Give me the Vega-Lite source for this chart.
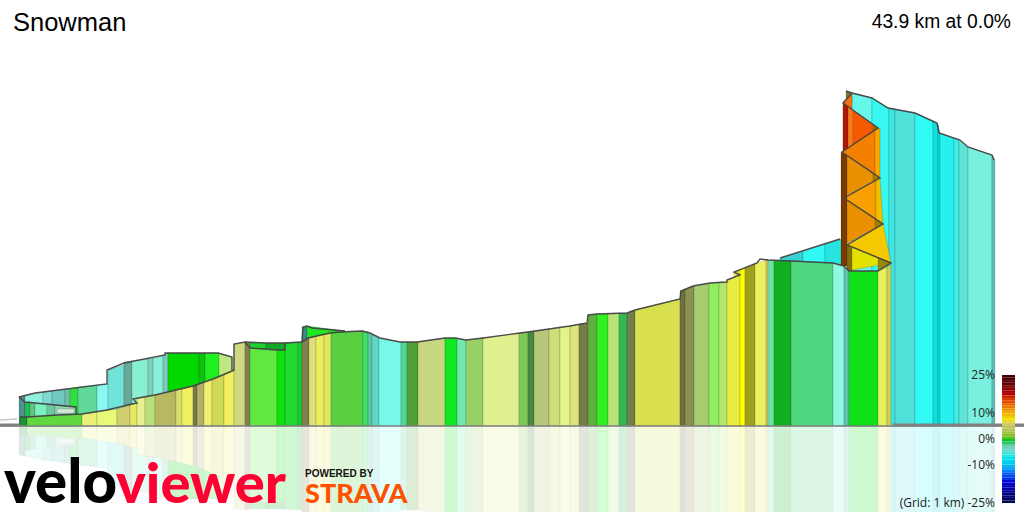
{"$schema":"https://vega.github.io/schema/vega-lite/v6.json","width":1014,"height":502,"padding":5,"autosize":{"type":"none"},"background":"white","config":{"view":{"stroke":null}},
"datasets":{"strips":[
{"s":1,"x":780,"top":168,"bot":0},{"s":1,"x":803,"top":175,"bot":0},{"s":2,"x":803,"top":175,"bot":0},{"s":2,"x":825,"top":182,"bot":0},{"s":3,"x":825,"top":182,"bot":0},{"s":3,"x":842,"top":187,"bot":0},
{"s":4,"x":852,"top":333,"bot":0},{"s":4,"x":872,"top":328,"bot":0},{"s":5,"x":872,"top":328,"bot":0},{"s":5,"x":889,"top":318,"bot":0},{"s":6,"x":889,"top":318,"bot":0},{"s":6,"x":895,"top":317,"bot":0},{"s":7,"x":895,"top":317,"bot":0},{"s":7,"x":915,"top":313,"bot":0},{"s":8,"x":915,"top":313,"bot":0},{"s":8,"x":933,"top":305,"bot":0},{"s":9,"x":933,"top":305,"bot":0},{"s":9,"x":938,"top":302,"bot":0},{"s":10,"x":938,"top":302,"bot":0},{"s":10,"x":940,"top":293,"bot":0},{"s":11,"x":940,"top":293,"bot":0},{"s":11,"x":954,"top":288,"bot":0},{"s":12,"x":954,"top":288,"bot":0},{"s":12,"x":959,"top":287,"bot":0},{"s":13,"x":959,"top":286,"bot":0},{"s":13,"x":968,"top":279,"bot":0},{"s":14,"x":968,"top":279,"bot":0},{"s":14,"x":992,"top":271,"bot":0},{"s":15,"x":992,"top":271,"bot":0},{"s":15,"x":995,"top":266,"bot":0},
{"s":16,"x":843,"top":323,"bot":274},{"s":16,"x":878,"top":298,"bot":298},{"s":17,"x":843,"top":323,"bot":274},{"s":17,"x":848,"top":319.4,"bot":277.4},{"s":18,"x":848,"top":319.4,"bot":277.4},{"s":18,"x":853,"top":316,"bot":281},{"s":19,"x":873,"top":301.6,"bot":294.6},{"s":19,"x":878,"top":298,"bot":298},
{"s":20,"x":842,"top":274,"bot":274},{"s":20,"x":875,"top":296,"bot":251.4},{"s":21,"x":875,"top":296,"bot":251.4},{"s":21,"x":880,"top":298,"bot":248},
{"s":22,"x":842,"top":274,"bot":228},{"s":22,"x":880,"top":248,"bot":248},{"s":23,"x":873,"top":252.8,"bot":244},{"s":23,"x":880,"top":248,"bot":248},
{"s":24,"x":844,"top":228,"bot":228},{"s":24,"x":876,"top":246,"bot":207},{"s":25,"x":876,"top":246,"bot":207},{"s":25,"x":880,"top":248,"bot":203.5},{"s":25,"x":883,"top":202,"bot":202},
{"s":26,"x":844,"top":228,"bot":181},{"s":26,"x":883,"top":202,"bot":202},{"s":27,"x":875,"top":207.3,"bot":197.3},{"s":27,"x":883,"top":202,"bot":202},
{"s":28,"x":847,"top":181,"bot":181},{"s":28,"x":883,"top":202,"bot":166},{"s":28,"x":891,"top":163,"bot":163},{"s":29,"x":847,"top":181,"bot":155},{"s":29,"x":891,"top":163,"bot":163},{"s":30,"x":878,"top":168,"bot":155},{"s":30,"x":891,"top":163,"bot":163},
{"s":31,"x":841,"top":274,"bot":160},{"s":31,"x":847,"top":270,"bot":160},{"s":32,"x":847,"top":181,"bot":155},{"s":32,"x":852,"top":178,"bot":155},{"s":33,"x":846,"top":335,"bot":325},{"s":33,"x":852,"top":333,"bot":323},{"s":34,"x":843,"top":323,"bot":323},{"s":34,"x":852,"top":333,"bot":317},
{"s":35,"x":19,"top":29,"bot":0},{"s":35,"x":25,"top":30,"bot":0},{"s":36,"x":25,"top":30,"bot":0},{"s":36,"x":43,"top":34,"bot":0},{"s":37,"x":43,"top":34,"bot":0},{"s":37,"x":52,"top":35,"bot":0},{"s":38,"x":52,"top":35,"bot":0},{"s":38,"x":65,"top":37,"bot":0},{"s":39,"x":65,"top":37,"bot":0},{"s":39,"x":70,"top":37.5,"bot":0},{"s":40,"x":70,"top":37.5,"bot":0},{"s":40,"x":78,"top":39,"bot":0},{"s":41,"x":78,"top":39,"bot":0},{"s":41,"x":97,"top":41,"bot":0},{"s":42,"x":97,"top":41,"bot":0},{"s":42,"x":108,"top":42,"bot":0},
{"s":43,"x":108,"top":56,"bot":0},{"s":43,"x":124,"top":61,"bot":0},{"s":44,"x":124,"top":64,"bot":0},{"s":44,"x":132,"top":65,"bot":0},{"s":45,"x":132,"top":65,"bot":0},{"s":45,"x":148,"top":67,"bot":0},{"s":46,"x":148,"top":67,"bot":0},{"s":46,"x":153,"top":68,"bot":0},{"s":47,"x":153,"top":68,"bot":0},{"s":47,"x":163,"top":70,"bot":0},{"s":48,"x":163,"top":71,"bot":0},{"s":48,"x":168,"top":73,"bot":0},{"s":49,"x":168,"top":73,"bot":0},{"s":49,"x":199,"top":73,"bot":0},{"s":50,"x":199,"top":73,"bot":0},{"s":50,"x":205,"top":73,"bot":0},{"s":51,"x":205,"top":73,"bot":0},{"s":51,"x":219,"top":73,"bot":0},{"s":52,"x":219,"top":73,"bot":0},{"s":52,"x":232,"top":69,"bot":0},
{"s":53,"x":250,"top":83,"bot":0},{"s":53,"x":266,"top":83,"bot":0},{"s":54,"x":266,"top":83,"bot":0},{"s":54,"x":285,"top":83,"bot":0},{"s":55,"x":302,"top":99,"bot":0},{"s":55,"x":307,"top":100,"bot":0},{"s":56,"x":307,"top":100,"bot":0},{"s":56,"x":345,"top":95,"bot":0},{"s":57,"x":734,"top":154,"bot":0},{"s":57,"x":740,"top":156,"bot":0},
{"s":58,"x":25,"top":24,"bot":0},{"s":58,"x":30,"top":24,"bot":0},{"s":59,"x":30,"top":24,"bot":0},{"s":59,"x":35,"top":23,"bot":0},{"s":60,"x":35,"top":23,"bot":0},{"s":60,"x":47,"top":22,"bot":0},{"s":61,"x":47,"top":22,"bot":0},{"s":61,"x":55,"top":21,"bot":0},{"s":62,"x":55,"top":21,"bot":0},{"s":62,"x":76,"top":19,"bot":0},{"s":132,"x":57,"top":17,"bot":13},{"s":132,"x":74,"top":17,"bot":13},
{"s":63,"x":20,"top":9,"bot":0},{"s":63,"x":27,"top":9,"bot":0},{"s":64,"x":27,"top":9,"bot":0},{"s":64,"x":82,"top":12,"bot":0},{"s":65,"x":82,"top":12,"bot":0},{"s":65,"x":97,"top":14,"bot":0},{"s":66,"x":97,"top":14,"bot":0},{"s":66,"x":117,"top":17,"bot":0},{"s":67,"x":117,"top":17,"bot":0},{"s":67,"x":130,"top":21,"bot":0},{"s":68,"x":130,"top":21,"bot":0},{"s":68,"x":137,"top":23,"bot":0},{"s":69,"x":137,"top":28,"bot":0},{"s":69,"x":145,"top":30,"bot":0},{"s":70,"x":145,"top":30,"bot":0},{"s":70,"x":155,"top":31,"bot":0},{"s":71,"x":155,"top":31,"bot":0},{"s":71,"x":176,"top":36,"bot":0},{"s":72,"x":176,"top":36,"bot":0},{"s":72,"x":182,"top":37,"bot":0},{"s":73,"x":182,"top":37,"bot":0},{"s":73,"x":193,"top":40,"bot":0},{"s":74,"x":193,"top":40,"bot":0},{"s":74,"x":197,"top":41,"bot":0},{"s":75,"x":197,"top":41,"bot":0},{"s":75,"x":204,"top":44,"bot":0},{"s":76,"x":204,"top":44,"bot":0},{"s":76,"x":212,"top":47,"bot":0},{"s":77,"x":212,"top":47,"bot":0},{"s":77,"x":224,"top":51,"bot":0},{"s":78,"x":224,"top":51,"bot":0},{"s":78,"x":234,"top":56,"bot":0},
{"s":79,"x":234,"top":82,"bot":0},{"s":79,"x":245,"top":84,"bot":0},{"s":80,"x":245,"top":84,"bot":0},{"s":80,"x":250,"top":83,"bot":0},{"s":81,"x":250,"top":78,"bot":0},{"s":81,"x":277,"top":76,"bot":0},{"s":82,"x":277,"top":76,"bot":0},{"s":82,"x":285,"top":76,"bot":0},{"s":83,"x":285,"top":83,"bot":0},{"s":83,"x":298,"top":84,"bot":0},{"s":84,"x":298,"top":84,"bot":0},{"s":84,"x":302,"top":84,"bot":0},{"s":85,"x":302,"top":84,"bot":0},{"s":85,"x":309,"top":88,"bot":0},{"s":86,"x":309,"top":88,"bot":0},{"s":86,"x":316,"top":90,"bot":0},{"s":87,"x":316,"top":90,"bot":0},{"s":87,"x":324,"top":92,"bot":0},{"s":88,"x":324,"top":92,"bot":0},{"s":88,"x":331,"top":93,"bot":0},{"s":89,"x":331,"top":93,"bot":0},{"s":89,"x":363,"top":95,"bot":0},{"s":90,"x":363,"top":95,"bot":0},{"s":90,"x":368,"top":94,"bot":0},{"s":91,"x":368,"top":94,"bot":0},{"s":91,"x":372,"top":91,"bot":0},{"s":92,"x":372,"top":91,"bot":0},{"s":92,"x":379,"top":88,"bot":0},{"s":93,"x":379,"top":88,"bot":0},{"s":93,"x":401,"top":84,"bot":0},{"s":94,"x":401,"top":84,"bot":0},{"s":94,"x":407,"top":84,"bot":0},{"s":95,"x":407,"top":84,"bot":0},{"s":95,"x":418,"top":84,"bot":0},{"s":96,"x":418,"top":84,"bot":0},{"s":96,"x":445,"top":88,"bot":0},{"s":97,"x":445,"top":88,"bot":0},{"s":97,"x":457,"top":88,"bot":0},{"s":98,"x":457,"top":88,"bot":0},{"s":98,"x":466,"top":86,"bot":0},{"s":99,"x":466,"top":86,"bot":0},{"s":99,"x":483,"top":88,"bot":0},{"s":100,"x":483,"top":88,"bot":0},{"s":100,"x":519,"top":93,"bot":0},{"s":101,"x":519,"top":93,"bot":0},{"s":101,"x":528,"top":94,"bot":0},{"s":102,"x":528,"top":94,"bot":0},{"s":102,"x":534,"top":95,"bot":0},{"s":103,"x":534,"top":95,"bot":0},{"s":103,"x":549,"top":97,"bot":0},{"s":104,"x":549,"top":97,"bot":0},{"s":104,"x":560,"top":99,"bot":0},{"s":105,"x":560,"top":99,"bot":0},{"s":105,"x":570,"top":100,"bot":0},{"s":106,"x":570,"top":100,"bot":0},{"s":106,"x":579,"top":102,"bot":0},{"s":107,"x":579,"top":102,"bot":0},{"s":107,"x":588,"top":103,"bot":0},{"s":108,"x":588,"top":111,"bot":0},{"s":108,"x":597,"top":112,"bot":0},{"s":109,"x":597,"top":112,"bot":0},{"s":109,"x":608,"top":112,"bot":0},{"s":110,"x":608,"top":112,"bot":0},{"s":110,"x":619,"top":113,"bot":0},{"s":111,"x":619,"top":113,"bot":0},{"s":111,"x":627,"top":113,"bot":0},{"s":112,"x":627,"top":113,"bot":0},{"s":112,"x":635,"top":116,"bot":0},{"s":113,"x":635,"top":116,"bot":0},{"s":113,"x":680,"top":127,"bot":0},{"s":114,"x":680,"top":135,"bot":0},{"s":114,"x":685,"top":137,"bot":0},{"s":115,"x":685,"top":137,"bot":0},{"s":115,"x":694,"top":140,"bot":0},{"s":116,"x":694,"top":140,"bot":0},{"s":116,"x":709,"top":143,"bot":0},{"s":117,"x":709,"top":143,"bot":0},{"s":117,"x":719,"top":144,"bot":0},{"s":118,"x":719,"top":144,"bot":0},{"s":118,"x":727,"top":144,"bot":0},{"s":119,"x":727,"top":146,"bot":0},{"s":119,"x":740,"top":151,"bot":0},{"s":120,"x":740,"top":156,"bot":0},{"s":120,"x":745,"top":158,"bot":0},{"s":121,"x":745,"top":158,"bot":0},{"s":121,"x":755,"top":162,"bot":0},{"s":122,"x":755,"top":162,"bot":0},{"s":122,"x":766,"top":166,"bot":0},{"s":123,"x":766,"top":166,"bot":0},{"s":123,"x":768,"top":166,"bot":0},{"s":124,"x":768,"top":166,"bot":0},{"s":124,"x":774,"top":166,"bot":0},{"s":125,"x":774,"top":166,"bot":0},{"s":125,"x":791,"top":165,"bot":0},{"s":126,"x":791,"top":165,"bot":0},{"s":126,"x":833,"top":163,"bot":0},{"s":127,"x":833,"top":163,"bot":0},{"s":127,"x":844,"top":160,"bot":0},{"s":128,"x":844,"top":160,"bot":0},{"s":128,"x":849,"top":155,"bot":0},{"s":129,"x":849,"top":155,"bot":0},{"s":129,"x":878,"top":155,"bot":0},{"s":130,"x":878,"top":155,"bot":0},{"s":130,"x":887,"top":159,"bot":0},{"s":131,"x":887,"top":159,"bot":0},{"s":131,"x":891,"top":162,"bot":0}
],
"edges":[
{"e":"o1","x":846,"elev":335},{"e":"o1","x":852,"elev":333},{"e":"o1","x":872,"elev":328},{"e":"o1","x":888,"elev":318},{"e":"o1","x":915,"elev":313},{"e":"o1","x":937,"elev":303},{"e":"o1","x":939,"elev":293},{"e":"o1","x":960,"elev":286},{"e":"o1","x":968,"elev":279},{"e":"o1","x":992,"elev":271},{"e":"o1","x":994,"elev":266},
{"e":"o2","x":852,"elev":333},{"e":"o2","x":843,"elev":323},{"e":"o2","x":878,"elev":298},{"e":"o2","x":842,"elev":274},{"e":"o2","x":880,"elev":248},{"e":"o2","x":844,"elev":228},{"e":"o2","x":883,"elev":202},{"e":"o2","x":847,"elev":181},{"e":"o2","x":891,"elev":163},{"e":"o2","x":878,"elev":155},{"e":"o2","x":849,"elev":155},{"e":"o2","x":844,"elev":160},{"e":"o2","x":833,"elev":163},{"e":"o2","x":791,"elev":165},{"e":"o2","x":768,"elev":166},{"e":"o2","x":760,"elev":167},{"e":"o2","x":757,"elev":163},{"e":"o2","x":734,"elev":154},{"e":"o2","x":740,"elev":151},{"e":"o2","x":727,"elev":146},{"e":"o2","x":727,"elev":144},{"e":"o2","x":710,"elev":143},{"e":"o2","x":693,"elev":140},{"e":"o2","x":681,"elev":135},{"e":"o2","x":680,"elev":127},{"e":"o2","x":635,"elev":116},{"e":"o2","x":627,"elev":113},{"e":"o2","x":597,"elev":112},{"e":"o2","x":588,"elev":111},{"e":"o2","x":587,"elev":103},{"e":"o2","x":570,"elev":100},{"e":"o2","x":528,"elev":94},{"e":"o2","x":520,"elev":93},{"e":"o2","x":483,"elev":88},{"e":"o2","x":466,"elev":86},{"e":"o2","x":455,"elev":88},{"e":"o2","x":445,"elev":88},{"e":"o2","x":417,"elev":84},{"e":"o2","x":400,"elev":84},{"e":"o2","x":380,"elev":88},{"e":"o2","x":370,"elev":93},{"e":"o2","x":362,"elev":95},{"e":"o2","x":340,"elev":94},{"e":"o2","x":330,"elev":93},{"e":"o2","x":308,"elev":88},{"e":"o2","x":302,"elev":84},{"e":"o2","x":285,"elev":83},{"e":"o2","x":285,"elev":76},{"e":"o2","x":277,"elev":76},{"e":"o2","x":250,"elev":78},{"e":"o2","x":245,"elev":84},{"e":"o2","x":234,"elev":82},{"e":"o2","x":234,"elev":56},{"e":"o2","x":232,"elev":55},{"e":"o2","x":213,"elev":47},{"e":"o2","x":193,"elev":40},{"e":"o2","x":155,"elev":31},{"e":"o2","x":133,"elev":27},{"e":"o2","x":137,"elev":23},{"e":"o2","x":132,"elev":22},{"e":"o2","x":107,"elev":16},{"e":"o2","x":82,"elev":12},{"e":"o2","x":57,"elev":11},{"e":"o2","x":27,"elev":9},{"e":"o2","x":20,"elev":9},
{"e":"o3","x":780,"elev":168},{"e":"o3","x":840,"elev":187},
{"e":"o4","x":19,"elev":29},{"e":"o4","x":35,"elev":33},{"e":"o4","x":107,"elev":42},{"e":"o4","x":107,"elev":56},{"e":"o4","x":124,"elev":63},{"e":"o4","x":165,"elev":71},{"e":"o4","x":165,"elev":73},{"e":"o4","x":218,"elev":73},{"e":"o4","x":232,"elev":69},{"e":"o4","x":232,"elev":56},
{"e":"o5","x":245,"elev":84},{"e":"o5","x":267,"elev":83},{"e":"o5","x":285,"elev":83},
{"e":"o6","x":302,"elev":85},{"e":"o6","x":303,"elev":99},{"e":"o6","x":307,"elev":100},{"e":"o6","x":312,"elev":98},{"e":"o6","x":345,"elev":95},
{"e":"o7","x":19,"elev":29},{"e":"o7","x":25,"elev":24},{"e":"o7","x":76,"elev":19},{"e":"o7","x":76,"elev":12}
],
"bar":[{"g":25,"g2":24},{"g":24,"g2":23},{"g":23,"g2":22},{"g":22,"g2":21},{"g":21,"g2":20},{"g":20,"g2":19},{"g":19,"g2":18},{"g":18,"g2":17},{"g":17,"g2":16},{"g":16,"g2":15},{"g":15,"g2":14},{"g":14,"g2":13},{"g":13,"g2":12},{"g":12,"g2":11},{"g":11,"g2":10},{"g":10,"g2":9},{"g":9,"g2":8},{"g":8,"g2":7},{"g":7,"g2":6},{"g":6,"g2":5},{"g":5,"g2":4},{"g":4,"g2":3},{"g":3,"g2":2},{"g":2,"g2":1},{"g":1,"g2":0},{"g":0,"g2":-1},{"g":-1,"g2":-2},{"g":-2,"g2":-3},{"g":-3,"g2":-4},{"g":-4,"g2":-5},{"g":-5,"g2":-6},{"g":-6,"g2":-7},{"g":-7,"g2":-8},{"g":-8,"g2":-9},{"g":-9,"g2":-10},{"g":-10,"g2":-11},{"g":-11,"g2":-12},{"g":-12,"g2":-13},{"g":-13,"g2":-14},{"g":-14,"g2":-15},{"g":-15,"g2":-16},{"g":-16,"g2":-17},{"g":-17,"g2":-18},{"g":-18,"g2":-19},{"g":-19,"g2":-20},{"g":-20,"g2":-21},{"g":-21,"g2":-22},{"g":-22,"g2":-23},{"g":-23,"g2":-24},{"g":-24,"g2":-25}]
},
"resolve":{"scale":{"y":"independent","color":"independent"}},
"layer":[
{"data":{"name":"strips"},"mark":{"type":"area","stroke":"#000000","strokeOpacity":0.14,"strokeWidth":1},"encoding":{
"x":{"field":"x","type":"quantitative","scale":{"domain":[5,1019],"nice":false,"zero":false},"axis":null},
"y":{"field":"top","type":"quantitative","scale":{"domain":[-421,81],"reverse":true,"nice":false,"zero":false},"axis":null},
"y2":{"field":"bot"},
"color":{"field":"s","type":"nominal","legend":null,"scale":{"domain":[1,2,3,4,5,6,7,8,9,10,11,12,13,14,15,16,17,18,19,20,21,22,23,24,25,26,27,28,29,30,31,32,33,34,35,36,37,38,39,40,41,42,43,44,45,46,47,48,49,50,51,52,53,54,55,56,57,58,59,60,61,62,63,64,65,66,67,68,69,70,71,72,73,74,75,76,77,78,79,80,81,82,83,84,85,86,87,88,89,90,91,92,93,94,95,96,97,98,99,100,101,102,103,104,105,106,107,108,109,110,111,112,113,114,115,116,117,118,119,120,121,122,123,124,125,126,127,128,129,130,131,132],"range":["#38d0d0","#30f8f4","#28e4e0","#66f7ec","#37f7ef","#40e4e0","#50e2da","#30fbf5","#10dfe0","#10dfe0","#28f0ee","#40eee8","#60e4d8","#78f0e0","#60c0b8","#f55a00","#b01800","#f47a20","#a07000","#f58000","#f5a800","#e89000","#a08000","#f8a000","#f0c000","#e89000","#a08000","#f5c800","#e4e000","#9a8a00","#7a3a00","#807000","#807830","#f47010","#50908c","#90f0e0","#80d8d0","#70c8c0","#70c0a8","#30e040","#60d898","#88f8f0","#70e4d8","#68a898","#88f0d0","#80d0c0","#88f0d8","#7ac8b8","#00d800","#10c010","#20f020","#c0e880","#20d030","#10a828","#408888","#20e820","#e8ec40","#20c058","#60c880","#78f0c0","#70c8a0","#8cd8b0","#209030","#60d840","#e8f078","#e8f878","#d0d070","#e8e860","#e8f090","#b8e078","#b8b860","#d8e070","#f0f060","#787848","#b0b068","#f0f070","#d0d858","#f0f060","#d0d880","#808050","#60e840","#10e010","#20d830","#20c830","#808050","#e0e078","#e8f060","#e0e860","#58d040","#40e070","#60c8a0","#60d8c8","#78f8e8","#50d890","#50a038","#c8d880","#10e820","#70e8b0","#98d068","#e0f090","#80c858","#4a8a40","#b8c878","#d0dc78","#e4f488","#dce480","#747c48","#60b040","#30f020","#b8e478","#30b858","#747c48","#d8e050","#707040","#8c9050","#a8cc70","#90ee60","#b0e870","#e8ec40","#ffff00","#a0a020","#ecf060","#d0d060","#70e0a8","#10b020","#50d880","#90f8e0","#60c0b0","#10e018","#e8f060","#d0d050","#d8e8d8"]}}
}},
{"data":{"values":[{"x":0,"a":0,"b":-86},{"x":1024,"a":0,"b":-86}]},"mark":{"type":"area","color":"white","opacity":0.8},"encoding":{
"x":{"field":"x","type":"quantitative","scale":{"domain":[5,1019],"nice":false,"zero":false},"axis":null},
"y":{"field":"a","type":"quantitative","scale":{"domain":[-81,421],"nice":false,"zero":false},"axis":null},"y2":{"field":"b"}}},
{"data":{"name":"strips"},"mark":{"type":"area","stroke":"#000000","strokeOpacity":0.14,"strokeWidth":1},"encoding":{
"x":{"field":"x","type":"quantitative","scale":{"domain":[5,1019],"nice":false,"zero":false},"axis":null},
"y":{"field":"top","type":"quantitative","scale":{"domain":[-81,421],"nice":false,"zero":false},"axis":null},
"y2":{"field":"bot"},
"color":{"field":"s","type":"nominal","legend":null,"scale":{"domain":[1,2,3,4,5,6,7,8,9,10,11,12,13,14,15,16,17,18,19,20,21,22,23,24,25,26,27,28,29,30,31,32,33,34,35,36,37,38,39,40,41,42,43,44,45,46,47,48,49,50,51,52,53,54,55,56,57,58,59,60,61,62,63,64,65,66,67,68,69,70,71,72,73,74,75,76,77,78,79,80,81,82,83,84,85,86,87,88,89,90,91,92,93,94,95,96,97,98,99,100,101,102,103,104,105,106,107,108,109,110,111,112,113,114,115,116,117,118,119,120,121,122,123,124,125,126,127,128,129,130,131,132],"range":["#38d0d0","#30f8f4","#28e4e0","#66f7ec","#37f7ef","#40e4e0","#50e2da","#30fbf5","#10dfe0","#10dfe0","#28f0ee","#40eee8","#60e4d8","#78f0e0","#60c0b8","#f55a00","#b01800","#f47a20","#a07000","#f58000","#f5a800","#e89000","#a08000","#f8a000","#f0c000","#e89000","#a08000","#f5c800","#e4e000","#9a8a00","#7a3a00","#807000","#807830","#f47010","#50908c","#90f0e0","#80d8d0","#70c8c0","#70c0a8","#30e040","#60d898","#88f8f0","#70e4d8","#68a898","#88f0d0","#80d0c0","#88f0d8","#7ac8b8","#00d800","#10c010","#20f020","#c0e880","#20d030","#10a828","#408888","#20e820","#e8ec40","#20c058","#60c880","#78f0c0","#70c8a0","#8cd8b0","#209030","#60d840","#e8f078","#e8f878","#d0d070","#e8e860","#e8f090","#b8e078","#b8b860","#d8e070","#f0f060","#787848","#b0b068","#f0f070","#d0d858","#f0f060","#d0d880","#808050","#60e840","#10e010","#20d830","#20c830","#808050","#e0e078","#e8f060","#e0e860","#58d040","#40e070","#60c8a0","#60d8c8","#78f8e8","#50d890","#50a038","#c8d880","#10e820","#70e8b0","#98d068","#e0f090","#80c858","#4a8a40","#b8c878","#d0dc78","#e4f488","#dce480","#747c48","#60b040","#30f020","#b8e478","#30b858","#747c48","#d8e050","#707040","#8c9050","#a8cc70","#90ee60","#b0e870","#e8ec40","#ffff00","#a0a020","#ecf060","#d0d060","#70e0a8","#10b020","#50d880","#90f8e0","#60c0b0","#10e018","#e8f060","#d0d050","#d8e8d8"]}}
}},
{"data":{"name":"edges"},"mark":{"type":"line","stroke":"#444444","strokeWidth":1.4,"opacity":0.95},"encoding":{
"x":{"field":"x","type":"quantitative","scale":{"domain":[5,1019],"nice":false,"zero":false},"axis":null},
"y":{"field":"elev","type":"quantitative","scale":{"domain":[-81,421],"nice":false,"zero":false},"axis":null},
"detail":{"field":"e"},"order":{"value":null}}},
{"data":{"values":[{"x":0,"elev":0},{"x":1024,"elev":0}]},"mark":{"type":"line","stroke":"#808080","strokeWidth":1.5},"encoding":{
"x":{"field":"x","type":"quantitative","scale":{"domain":[5,1019],"nice":false,"zero":false},"axis":null},
"y":{"field":"elev","type":"quantitative","scale":{"domain":[-81,421],"nice":false,"zero":false},"axis":null}}},
{"data":{"values":[{"p":"a","x":0,"elev":1},{"p":"a","x":20,"elev":1},{"p":"b","x":893,"elev":1},{"p":"b","x":1024,"elev":1}]},"mark":{"type":"line","stroke":"#808080","strokeWidth":3},"encoding":{
"x":{"field":"x","type":"quantitative","scale":{"domain":[5,1019],"nice":false,"zero":false},"axis":null},
"y":{"field":"elev","type":"quantitative","scale":{"domain":[-81,421],"nice":false,"zero":false},"axis":null},"detail":{"field":"p"}}},
{"data":{"values":[{"x":0,"elev":6},{"x":17,"elev":7}]},"mark":{"type":"line","stroke":"#c8c8c8","strokeWidth":1.5},"encoding":{
"x":{"field":"x","type":"quantitative","scale":{"domain":[5,1019],"nice":false,"zero":false},"axis":null},
"y":{"field":"elev","type":"quantitative","scale":{"domain":[-81,421],"nice":false,"zero":false},"axis":null}}},
{"data":{"name":"bar"},"mark":{"type":"rect"},"encoding":{
"x":{"datum":1002,"type":"quantitative","scale":{"domain":[5,1019],"nice":false,"zero":false},"axis":null},"x2":{"datum":1015},
"y":{"field":"g","type":"quantitative","scale":{"domain":[-26.56,169.53],"nice":false,"zero":false},"axis":null},"y2":{"field":"g2"},
"color":{"field":"g","type":"quantitative","legend":null,"scale":{"domain":[-25,-21.3,-16.1,-12.9,-9.6,-6.3,-3,-1.8,0.2,2.8,5.4,8,11.3,14.6,17.8,21.7,25],"range":["#000040","#000080","#0000e0","#0060f0","#00c0f0","#00e8e8","#70d0c0","#50c890","#10c010","#a0c040","#c8c870","#f0e000","#f0a000","#e85000","#c00000","#660000","#400000"]}}}},
{"data":{"values":[{"label":"25%","x":995,"g":25},{"label":"10%","x":995,"g":10},{"label":"0%","x":995,"g":0},{"label":"-10%","x":995,"g":-10},{"label":"(Grid: 1 km) -25%","x":995,"g":-25}]},"mark":{"type":"text","align":"right","baseline":"middle","font":"Open Sans","fontSize":12,"color":"#222222"},"encoding":{
"x":{"field":"x","type":"quantitative","scale":{"domain":[5,1019],"nice":false,"zero":false},"axis":null},
"y":{"field":"g","type":"quantitative","scale":{"domain":[-26.56,169.53],"nice":false,"zero":false},"axis":null},"text":{"field":"label"}}},
{"data":{"values":[{"label":"Snowman","x":13,"elev":395}]},"mark":{"type":"text","align":"left","baseline":"alphabetic","font":"Liberation Sans","fontSize":25.5,"color":"#000000"},"encoding":{
"x":{"field":"x","type":"quantitative","scale":{"domain":[5,1019],"nice":false,"zero":false},"axis":null},
"y":{"field":"elev","type":"quantitative","scale":{"domain":[-81,421],"nice":false,"zero":false},"axis":null},"text":{"field":"label"}}},
{"data":{"values":[{"label":"43.9 km at 0.0%","x":1011,"elev":398}]},"mark":{"type":"text","align":"right","baseline":"alphabetic","font":"Liberation Sans","fontSize":19.3,"color":"#000000"},"encoding":{
"x":{"field":"x","type":"quantitative","scale":{"domain":[5,1019],"nice":false,"zero":false},"axis":null},
"y":{"field":"elev","type":"quantitative","scale":{"domain":[-81,421],"nice":false,"zero":false},"axis":null},"text":{"field":"label"}}},
{"data":{"values":[{"label":"velo","x":4,"elev":-77}]},"mark":{"type":"text","align":"left","baseline":"alphabetic","font":"Lato","fontWeight":900,"fontSize":60,"color":"#000000"},"encoding":{
"x":{"field":"x","type":"quantitative","scale":{"domain":[5,1019],"nice":false,"zero":false},"axis":null},
"y":{"field":"elev","type":"quantitative","scale":{"domain":[-81,421],"nice":false,"zero":false},"axis":null},"text":{"field":"label"}}},
{"data":{"values":[{"label":"viewer","x":116,"elev":-77}]},"mark":{"type":"text","align":"left","baseline":"alphabetic","font":"Lato","fontWeight":900,"fontSize":56,"color":"#ff0033"},"encoding":{
"x":{"field":"x","type":"quantitative","scale":{"domain":[5,1019],"nice":false,"zero":false},"axis":null},
"y":{"field":"elev","type":"quantitative","scale":{"domain":[-81,421],"nice":false,"zero":false},"axis":null},"text":{"field":"label"}}},
{"data":{"values":[{"label":"POWERED BY","x":305,"elev":-51}]},"mark":{"type":"text","align":"left","baseline":"alphabetic","font":"Liberation Sans","fontWeight":"bold","fontSize":10,"color":"#111111"},"encoding":{
"x":{"field":"x","type":"quantitative","scale":{"domain":[5,1019],"nice":false,"zero":false},"axis":null},
"y":{"field":"elev","type":"quantitative","scale":{"domain":[-81,421],"nice":false,"zero":false},"axis":null},"text":{"field":"label"}}},
{"data":{"values":[{"label":"STRAVA","x":305,"elev":-77}]},"mark":{"type":"text","align":"left","baseline":"alphabetic","font":"Lato","fontWeight":900,"fontSize":27,"color":"#fc5200"},"encoding":{
"x":{"field":"x","type":"quantitative","scale":{"domain":[5,1019],"nice":false,"zero":false},"axis":null},
"y":{"field":"elev","type":"quantitative","scale":{"domain":[-81,421],"nice":false,"zero":false},"axis":null},"text":{"field":"label"}}}
]}
